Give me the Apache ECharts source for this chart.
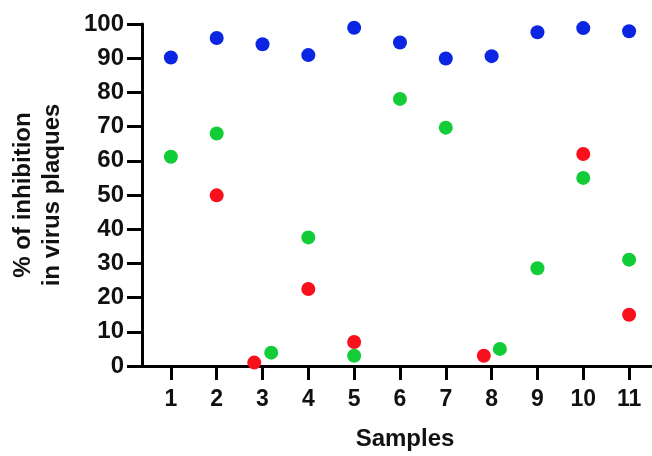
<!DOCTYPE html>
<html>
<head>
<meta charset="utf-8">
<script src="https://cdn.jsdelivr.net/npm/echarts@6/dist/echarts.min.js"></script>
<style>
  html, body { margin: 0; padding: 0; background: #fff; }
  #chart { width: 652px; height: 456px; }
</style>
</head>
<body>
<div id="chart"></div>
<script type="text/javascript">
    // sample positions (points nudged sideways where they overlap)
    var sampleTicks = [1, 2, 3, 4, 5, 6, 7, 8, 9, 10, 11];

    var blueX = [1, 2, 3, 4, 5, 6, 7, 8, 9, 10, 11];
    var blueY = [90.2, 95.9, 94.1, 90.9, 98.9, 94.6, 89.9, 90.6, 97.6, 98.8, 97.9];

    var greenX = [1, 2, 3.19, 4, 5, 6, 7, 8.18, 9, 10, 11];
    var greenY = [61.2, 68.0, 3.9, 37.6, 3.0, 78.1, 69.7, 5.0, 28.6, 55.0, 31.1];

    var redX = [2, 2.82, 4, 5, 7.83, 10, 11];
    var redY = [49.9, 1.0, 22.5, 7.0, 3.0, 62.0, 15.0];

    function pairs(xs, ys) {
        var out = [];
        for (var i = 0; i < xs.length; i++) {
            out.push([xs[i], ys[i]]);
        }
        return out;
    }

    var chart = echarts.init(document.getElementById('chart'));

    var font = 'Liberation Sans, Arial, sans-serif';

    var option = {
        animation: false,
        grid: {
            left: 142,
            right: 0,
            top: 24,
            bottom: 85
        },
        xAxis: {
            type: 'value',
            min: 0.37,
            max: 11.5,
            name: 'Samples',
            nameLocation: 'middle',
            nameGap: 61,
            nameTextStyle: {
                fontFamily: font, fontWeight: 'bold', fontSize: 24, color: '#111',
                padding: [0, 0, 0, 16]
            },
            splitLine: { show: false },
            axisLine: { show: true, lineStyle: { color: '#000', width: 3 } },
            axisTick: {
                show: true,
                length: 14,
                customValues: sampleTicks,
                lineStyle: { color: '#000', width: 3 }
            },
            axisLabel: {
                customValues: sampleTicks,
                margin: 22,
                fontFamily: font,
                fontWeight: 'bold',
                fontSize: 23,
                color: '#111'
            }
        },
        yAxis: {
            type: 'value',
            min: 0,
            max: 100,
            interval: 10,
            name: '% of inhibition\nin virus plaques',
            nameLocation: 'middle',
            nameGap: 75,
            nameTextStyle: { fontFamily: font, fontWeight: 'bold', fontSize: 24, color: '#111', lineHeight: 29 },
            splitLine: { show: false },
            axisLine: { show: true, lineStyle: { color: '#000', width: 3 } },
            axisTick: { show: true, length: 15, lineStyle: { color: '#000', width: 3 } },
            axisLabel: {
                margin: 18,
                fontFamily: font,
                fontWeight: 'bold',
                fontSize: 24,
                color: '#111'
            }
        },
        series: [
            {
                name: 'blue',
                type: 'scatter',
                symbolSize: 14,
                itemStyle: { color: '#0a26e2', opacity: 1 },
                data: pairs(blueX, blueY)
            },
            {
                name: 'green',
                type: 'scatter',
                symbolSize: 14,
                itemStyle: { color: '#12cc38', opacity: 1 },
                data: pairs(greenX, greenY)
            },
            {
                name: 'red',
                type: 'scatter',
                symbolSize: 14,
                itemStyle: { color: '#f8101c', opacity: 1 },
                data: pairs(redX, redY)
            }
        ]
    };

    chart.setOption(option);
</script>
</body>
</html>
